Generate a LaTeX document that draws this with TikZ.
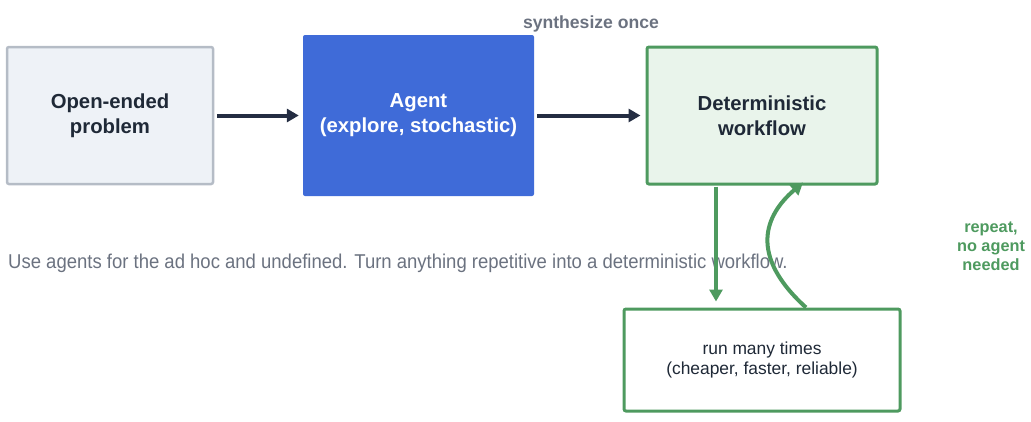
\documentclass[tikz,border=0pt]{standalone}
\usepackage{fontspec}
\setmainfont{Liberation Sans}
\usetikzlibrary{arrows.meta}
\definecolor{darkink}{HTML}{1F2937}
\definecolor{arrowink}{HTML}{242D42}
\definecolor{grayfill}{HTML}{EEF2F7}
\definecolor{grayedge}{HTML}{B5BCC6}
\definecolor{agentblue}{HTML}{3F6BD8}
\definecolor{wfgreen}{HTML}{4E9A5F}
\definecolor{wffill}{HTML}{E9F4EB}
\definecolor{mutedtext}{HTML}{6B7280}
\tikzset{
  box/.style={rectangle, rounded corners=2pt, align=center, inner sep=0pt,
    font=\fontsize{20.3}{25}\selectfont\bfseries, text=darkink},
  darkarrow/.style={draw=arrowink, line width=4pt, -{Triangle[length=12pt,width=13pt]}},
  greenarrow/.style={draw=wfgreen, line width=4pt, -{Triangle[length=12pt,width=13pt]}},
}
\begin{document}
\begin{tikzpicture}[x=1pt,y=-1pt]
\useasboundingbox (0,0) rectangle (1031,421);
\node[box, fill=grayfill, draw=grayedge, line width=2.5pt, minimum width=206pt, minimum height=137pt] (prob) at (110,115.5) {Open-ended\\problem};
\node[box, fill=agentblue, text=white, minimum width=231pt, minimum height=161pt] (agent) at (418.5,115.5) {Agent\\(explore, stochastic)};
\node[box, fill=wffill, draw=wfgreen, line width=3pt, minimum width=230pt, minimum height=137pt] (wf) at (762,115.5) {Deterministic\\workflow};
\node[box, fill=white, draw=wfgreen, line width=3pt, minimum width=276pt, minimum height=102pt, font=\fontsize{17.4}{20}\selectfont] (run) at (762,360) {run many times\\(cheaper, faster, reliable)};
\node[font=\fontsize{17.6}{20}\selectfont\bfseries, text=mutedtext] (synth) at (591,24) {synthesize once};
\node[font=\fontsize{16.3}{19}\selectfont\bfseries, text=wfgreen, align=center] (rep) at (991,246) {repeat,\\no agent\\needed};
\node[anchor=west, inner sep=0pt, text=mutedtext, font=\fontsize{20}{24}\selectfont] (note) at (8,263) {\scalebox{0.925}[1]{Use agents for the ad hoc and undefined. Turn anything repetitive into a deterministic workflow.}};
\draw[darkarrow, shorten <=3pt, shorten >=4pt] (prob.east) -- (agent.west);
\draw[darkarrow, shorten <=3pt, shorten >=5pt] (agent.east) -- (wf.west);
\draw[greenarrow, shorten <=1pt, shorten >=6pt] ([xshift=-46pt]wf.south) -- ([xshift=-46pt]run.north);
\draw[greenarrow] ([xshift=44pt]run.north) .. controls (748,255) and (765,215) .. ([xshift=41pt,yshift=3pt]wf.south);
\end{tikzpicture}
\end{document}
